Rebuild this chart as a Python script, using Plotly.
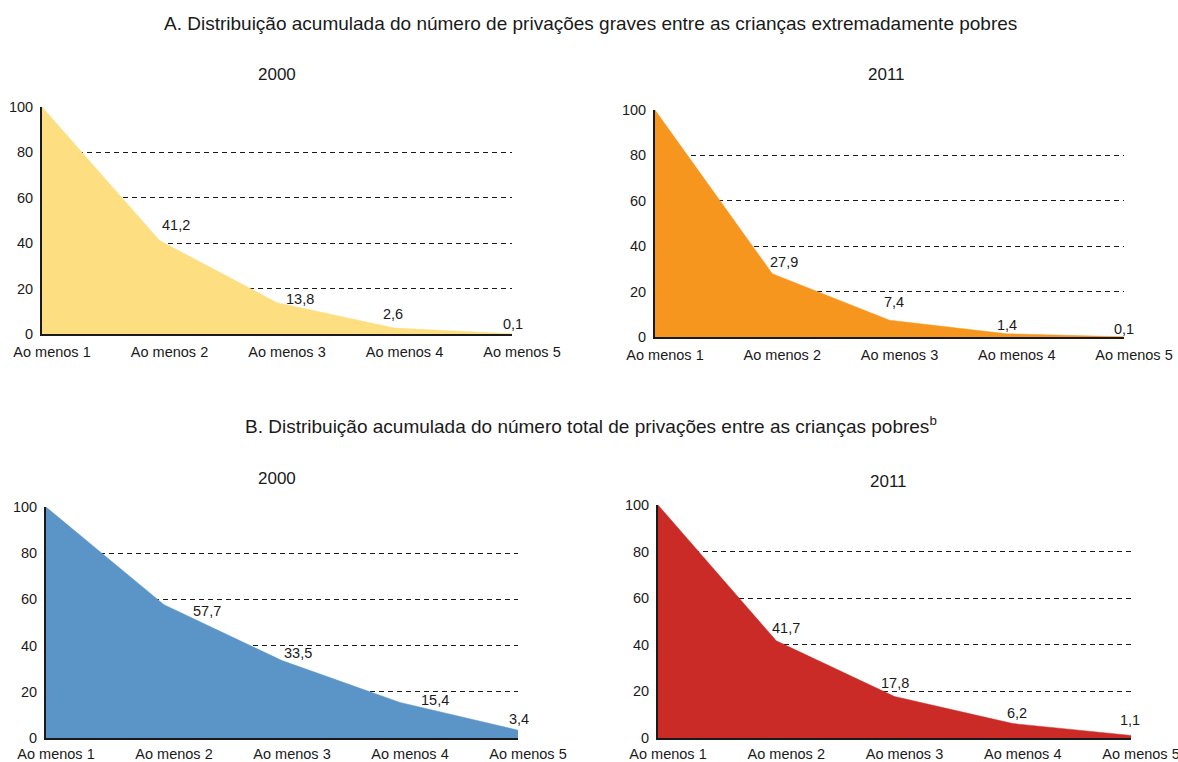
import plotly.graph_objects as go

categories = ["Ao menos 1", "Ao menos 2", "Ao menos 3", "Ao menos 4", "Ao menos 5"]
a_2000 = [100, 41.2, 13.8, 2.6, 0.1]
a_2011 = [100, 27.9, 7.4, 1.4, 0.1]
b_2000 = [100, 57.7, 33.5, 15.4, 3.4]
b_2011 = [100, 41.7, 17.8, 6.2, 1.1]
y_ticks = [0, 20, 40, 60, 80, 100]

title_a = "A. Distribuição acumulada do número de privações graves entre as crianças extremadamente pobres"
title_b = "B. Distribuição acumulada do número total de privações entre as crianças pobres<sup>b</sup>"
year_labels = ["2000", "2011", "2000", "2011"]

W, H = 1178, 762
FONT = "Arial, Liberation Sans, sans-serif"
TXT = "#1a1a1a"

# panel pixel boxes and label offsets (dx right, dy up) for points 2..5
panels = [
    dict(values=a_2000, color="#FDDE80", px=(42, 512), py=(334, 107), standoff=4,
         shifts=[(16, 15), (23, 4), (-2, 14), (1, 10)]),
    dict(values=a_2011, color="#F6961E", px=(655, 1124), py=(337, 110), standoff=4,
         shifts=[(12, 12), (4, 18), (0, 9), (0, 8)]),
    dict(values=b_2000, color="#5B95C8", px=(46, 518), py=(738, 507), standoff=2,
         shifts=[(43, -6), (16, 8), (35, 2), (1, 11)]),
    dict(values=b_2011, color="#CB2B26", px=(658, 1131), py=(738, 505), standoff=2,
         shifts=[(10, 13), (0, 14), (4, 11), (-1, 15)]),
]


def fmt(v):
    return ("%.1f" % v).replace(".", ",")


fig = go.Figure()
layout = dict(
    width=W, height=H, margin=dict(l=0, r=0, t=0, b=0, autoexpand=False),
    paper_bgcolor="white", plot_bgcolor="white", showlegend=False,
    font=dict(family=FONT, size=14, color=TXT),
)
annotations = []
for i, p in enumerate(panels):
    n = "" if i == 0 else str(i + 1)
    fig.add_trace(go.Scatter(
        x=categories, y=p["values"], mode="lines",
        fill="tozeroy", fillcolor=p["color"],
        line=dict(color=p["color"], width=0.5),
        xaxis="x" + n, yaxis="y" + n, hoverinfo="skip",
    ))
    for j, (dx, dy) in enumerate(p["shifts"], start=1):
        annotations.append(dict(
            text=fmt(p["values"][j]), x=categories[j], y=p["values"][j],
            xref="x" + n, yref="y" + n, showarrow=False,
            xanchor="center", yanchor="middle", xshift=dx, yshift=dy,
            font=dict(family=FONT, size=14.5, color=TXT),
        ))
    x0, x1 = p["px"][0] / W, p["px"][1] / W
    y0, y1 = 1 - p["py"][0] / H, 1 - p["py"][1] / H
    layout["xaxis" + n] = dict(
        domain=[x0, x1], anchor="y" + n, type="category",
        range=[0, 4], showgrid=False, zeroline=False, automargin=False,
        showline=True, linecolor=TXT, linewidth=2,
        ticks="", ticklabelshift=10, ticklabelstandoff=p["standoff"],
        tickfont=dict(family=FONT, size=14.5, color=TXT),
        fixedrange=True,
    )
    layout["yaxis" + n] = dict(
        domain=[y0, y1], anchor="x" + n, range=[0, 100], automargin=False,
        tickvals=y_ticks, showgrid=True, gridcolor=TXT,
        gridwidth=1, griddash="5px,4px", zeroline=False,
        showline=True, linecolor=TXT, linewidth=2, ticks="",
        ticklabelstandoff=4,
        tickfont=dict(family=FONT, size=14.5, color=TXT),
        fixedrange=True,
    )

# panel year labels
year_pos = [(277, 74), (887, 74), (277, 479), (888, 481)]
for lab, (xp, yp) in zip(year_labels, year_pos):
    annotations.append(dict(text=lab, x=xp / W, y=1 - yp / H, xref="paper", yref="paper",
                            showarrow=False, xanchor="center", yanchor="middle",
                            font=dict(family=FONT, size=17, color=TXT)))

annotations.append(dict(text=title_a, x=590 / W, y=1 - 23 / H, xref="paper", yref="paper",
                        showarrow=False, xanchor="center", yanchor="middle",
                        font=dict(family=FONT, size=19, color=TXT)))
annotations.append(dict(text=title_b, x=591 / W, y=1 - 425 / H, xref="paper", yref="paper",
                        showarrow=False, xanchor="center", yanchor="middle",
                        font=dict(family=FONT, size=19, color=TXT)))
layout["annotations"] = annotations
fig.update_layout(**layout)
fig.write_html(
    "out.html",
    config={"displayModeBar": False},
    post_script="document.body.style.margin='0';document.body.style.overflow='hidden';",
)
